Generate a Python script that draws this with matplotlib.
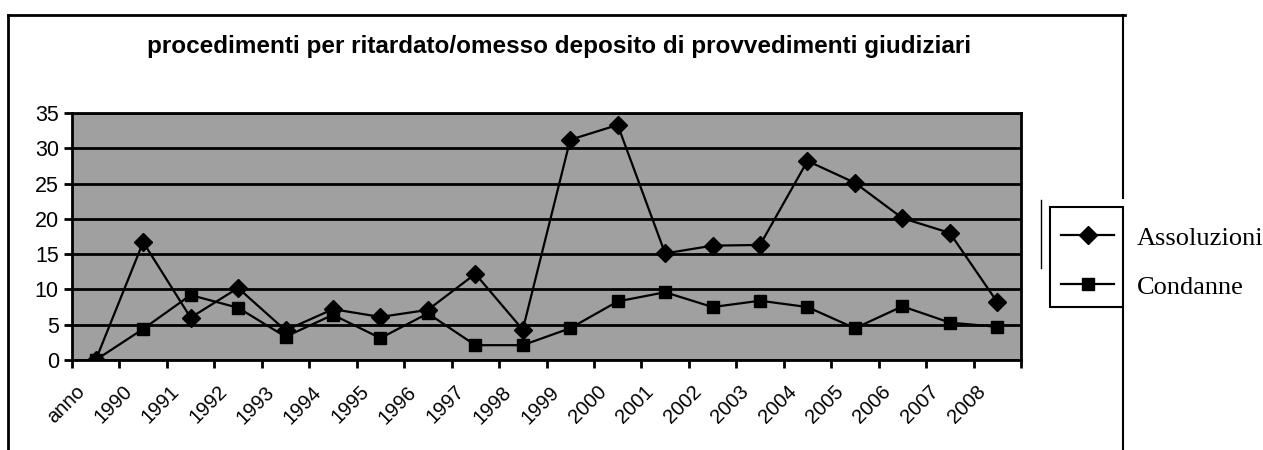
#!/usr/bin/env python3
# -*- coding: utf-8 -*-

import matplotlib
matplotlib.use('Agg')
import matplotlib.pyplot as plt
from matplotlib.lines import Line2D
from matplotlib.patches import Rectangle
from matplotlib.transforms import ScaledTranslation
import numpy as np

plt.rcParams['font.family'] = ['Liberation Sans', 'DejaVu Sans']

TITLE = 'procedimenti per ritardato/omesso deposito di provvedimenti giudiziari'

categorie = ['anno', '1990', '1991', '1992', '1993', '1994', '1995', '1996', '1997',
             '1998', '1999', '2000', '2001', '2002', '2003', '2004', '2005', '2006',
             '2007', '2008']
assoluzioni = [0, 16.7, 6.0, 10.2, 4.2, 7.2, 6.1, 7.1, 12.2, 4.3,
               31.2, 33.3, 15.1, 16.2, 16.3, 28.2, 25.1, 20.1, 18.0, 8.2]
condanne = [0, 4.4, 9.2, 7.4, 3.3, 6.4, 3.1, 6.6, 2.1, 2.1,
            4.5, 8.3, 9.6, 7.5, 8.4, 7.5, 4.5, 7.6, 5.3, 4.7]
y_ticks = [0, 5, 10, 15, 20, 25, 30, 35]


def main():
    fig = plt.figure(figsize=(12.63, 4.5), dpi=100)
    ax = fig.add_axes([0.057, 0.2, 0.7514, 0.549])
    ax.set_facecolor('#a0a0a0')

    x = np.arange(len(categorie)) + 0.5
    ax.plot(x, assoluzioni, color='black', linewidth=1.6, marker='D',
            markersize=9.5, label='Assoluzioni', zorder=3)
    ax.plot(x, condanne, color='black', linewidth=1.6, marker='s',
            markersize=9, label='Condanne', zorder=3)

    ax.set_xlim(0, len(categorie))
    ax.set_ylim(0, 35)
    ax.set_yticks(y_ticks)
    ax.set_yticklabels([str(v) for v in y_ticks], fontsize=15.5)
    ax.yaxis.grid(True, color='black', linewidth=2)
    ax.set_axisbelow(True)

    # tick marks at category boundaries, labels at category centres
    ax.set_xticks(np.arange(len(categorie) + 1))
    ax.set_xticklabels([])
    ax.set_xticks(x, minor=True)
    ax.set_xticklabels(categorie, minor=True, rotation=45, ha='right',
                       va='top', rotation_mode='anchor', fontsize=14.5)
    ax.tick_params(axis='x', which='minor', length=0, pad=16)
    ax.tick_params(axis='both', which='major', length=6, width=2, direction='out')
    shift = ScaledTranslation(-21 / 100, 0, fig.dpi_scale_trans)
    for lbl in ax.get_xticklabels(minor=True):
        lbl.set_transform(lbl.get_transform() + shift)

    for s in ax.spines.values():
        s.set_linewidth(2)
        s.set_color('black')

    fig.text(0.443, 0.896, TITLE, ha='center', va='center', fontsize=17.5,
             fontweight='bold')

    # outer chart frame
    fig.add_artist(Line2D([0.0063, 0.0063], [0.0, 0.967], color='black', linewidth=2))
    fig.add_artist(Line2D([0.0063, 0.891], [0.967, 0.967], color='black', linewidth=2))
    fig.add_artist(Line2D([0.889, 0.889], [0.967, 0.56], color='black', linewidth=1.5))
    fig.add_artist(Line2D([0.889, 0.889], [0.32, 0.0], color='black', linewidth=1.5))
    fig.add_artist(Line2D([0.824, 0.824], [0.556, 0.404], color='black', linewidth=1))

    # legend: handles boxed, labels outside the box
    fig.legend(loc='center left', bbox_to_anchor=(0.832, 0.417),
               frameon=False, handlelength=2.0, handletextpad=0.87,
               labelspacing=0.97, borderaxespad=0,
               prop={'family': 'Liberation Serif', 'size': 19})
    fig.add_artist(Rectangle((0.8315, 0.318), 0.058, 0.222, transform=fig.transFigure,
                             fill=False, edgecolor='black', linewidth=1.5))

    fig.savefig('out.png', dpi=100)
    plt.close(fig)


if __name__ == '__main__':
    main()
